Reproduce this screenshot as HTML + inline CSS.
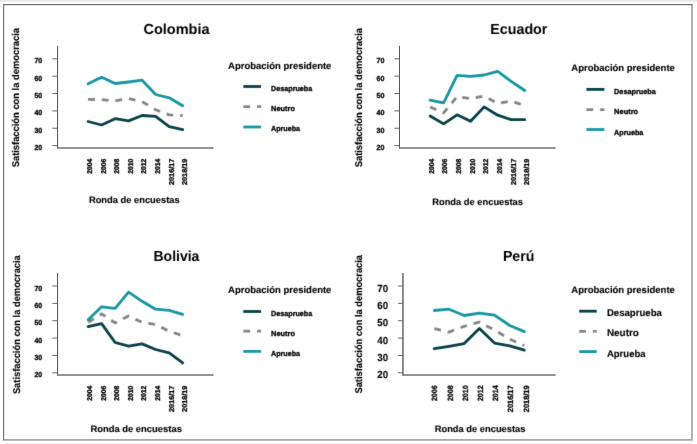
<!DOCTYPE html>
<html><head><meta charset="utf-8"><title>Satisfacción con la democracia</title>
<style>html,body{margin:0;padding:0;background:#fff;}body{width:697px;height:444px;overflow:hidden;font-family:"Liberation Sans",sans-serif;}svg{display:block;}text{font-family:"Liberation Sans",sans-serif;text-rendering:geometricPrecision;}</style>
</head><body>
<svg width="697" height="444" viewBox="0 0 697 444">
<defs><filter id="soft" x="0" y="0" width="697" height="444" filterUnits="userSpaceOnUse" color-interpolation-filters="sRGB"><feConvolveMatrix order="3" kernelMatrix="0.015 0.065 0.015 0.065 0.68 0.065 0.015 0.065 0.015" divisor="1" edgeMode="duplicate" preserveAlpha="false"/></filter><linearGradient id="tg" x1="0" y1="0" x2="0" y2="1"><stop offset="0" stop-color="#e2e2e2"/><stop offset="1" stop-color="#ffffff"/></linearGradient></defs>
<rect x="0" y="0" width="697" height="444" fill="#ffffff"/>
<rect x="0" y="0" width="697" height="3" fill="url(#tg)"/>
<path d="M692.0 4.5V439.95H3.6" fill="none" stroke="#a9a9a9" stroke-width="1.8"/>
<path d="M3.6 440.6V4.6H692.7" fill="none" stroke="#787878" stroke-width="1.25"/>
<g id="chart" filter="url(#soft)">
<text x="42.20" y="63.30" font-size="7.4" font-weight="bold" fill="#000000" text-anchor="end" stroke="#000000" stroke-width="0.32" textLength="7.80" lengthAdjust="spacingAndGlyphs">70</text>
<text x="42.20" y="80.66" font-size="7.4" font-weight="bold" fill="#000000" text-anchor="end" stroke="#000000" stroke-width="0.32" textLength="7.80" lengthAdjust="spacingAndGlyphs">60</text>
<text x="42.20" y="98.02" font-size="7.4" font-weight="bold" fill="#000000" text-anchor="end" stroke="#000000" stroke-width="0.32" textLength="7.80" lengthAdjust="spacingAndGlyphs">50</text>
<text x="42.20" y="115.38" font-size="7.4" font-weight="bold" fill="#000000" text-anchor="end" stroke="#000000" stroke-width="0.32" textLength="7.80" lengthAdjust="spacingAndGlyphs">40</text>
<text x="42.20" y="132.74" font-size="7.4" font-weight="bold" fill="#000000" text-anchor="end" stroke="#000000" stroke-width="0.32" textLength="7.80" lengthAdjust="spacingAndGlyphs">30</text>
<text x="42.20" y="150.10" font-size="7.4" font-weight="bold" fill="#000000" text-anchor="end" stroke="#000000" stroke-width="0.32" textLength="7.80" lengthAdjust="spacingAndGlyphs">20</text>
<text x="19.30" y="167.30" font-size="9.9" font-weight="bold" fill="#000000" text-anchor="start" stroke="#000000" stroke-width="0.12" textLength="139.30" lengthAdjust="spacingAndGlyphs" transform="rotate(-90 19.30 167.30)">Satisfacción con la democracia</text>
<text x="92.00" y="158.60" font-size="7.1" font-weight="bold" fill="#000000" text-anchor="end" stroke="#000000" stroke-width="0.32" textLength="15.10" lengthAdjust="spacingAndGlyphs" transform="rotate(-90 92.00 158.60)">2004</text>
<text x="105.60" y="158.60" font-size="7.1" font-weight="bold" fill="#000000" text-anchor="end" stroke="#000000" stroke-width="0.32" textLength="15.10" lengthAdjust="spacingAndGlyphs" transform="rotate(-90 105.60 158.60)">2006</text>
<text x="119.20" y="158.60" font-size="7.1" font-weight="bold" fill="#000000" text-anchor="end" stroke="#000000" stroke-width="0.32" textLength="15.10" lengthAdjust="spacingAndGlyphs" transform="rotate(-90 119.20 158.60)">2008</text>
<text x="132.80" y="158.60" font-size="7.1" font-weight="bold" fill="#000000" text-anchor="end" stroke="#000000" stroke-width="0.32" textLength="15.10" lengthAdjust="spacingAndGlyphs" transform="rotate(-90 132.80 158.60)">2010</text>
<text x="146.40" y="158.60" font-size="7.1" font-weight="bold" fill="#000000" text-anchor="end" stroke="#000000" stroke-width="0.32" textLength="15.10" lengthAdjust="spacingAndGlyphs" transform="rotate(-90 146.40 158.60)">2012</text>
<text x="160.00" y="158.60" font-size="7.1" font-weight="bold" fill="#000000" text-anchor="end" stroke="#000000" stroke-width="0.32" textLength="15.10" lengthAdjust="spacingAndGlyphs" transform="rotate(-90 160.00 158.60)">2014</text>
<text x="173.60" y="158.60" font-size="7.1" font-weight="bold" fill="#000000" text-anchor="end" stroke="#000000" stroke-width="0.32" textLength="26.40" lengthAdjust="spacingAndGlyphs" transform="rotate(-90 173.60 158.60)">2016/17</text>
<text x="187.20" y="158.60" font-size="7.1" font-weight="bold" fill="#000000" text-anchor="end" stroke="#000000" stroke-width="0.32" textLength="26.40" lengthAdjust="spacingAndGlyphs" transform="rotate(-90 187.20 158.60)">2018/19</text>
<text x="88.90" y="202.70" font-size="9.4" font-weight="bold" fill="#000000" text-anchor="start" stroke="#000000" stroke-width="0.12" textLength="90.80" lengthAdjust="spacingAndGlyphs">Ronda de encuestas</text>
<text x="143.40" y="34.00" font-size="14.6" font-weight="bold" fill="#000000" text-anchor="start" textLength="66.20" lengthAdjust="spacingAndGlyphs">Colombia</text>
<polyline points="88.1,99.4 101.6,99.6 115.1,101.0 128.6,98.5 142.1,101.6 155.6,109.7 169.2,114.9 182.7,115.5" fill="none" stroke="#868686" stroke-width="2.8" stroke-linejoin="round" stroke-linecap="butt" stroke-dasharray="6.8 6.9"/>
<polyline points="88.1,121.5 101.6,125.0 115.1,118.7 128.6,120.9 142.1,115.5 155.6,116.3 169.2,126.6 182.7,129.7" fill="none" stroke="#07404a" stroke-width="2.8" stroke-linejoin="round" stroke-linecap="round"/>
<polyline points="88.1,83.8 101.6,77.2 115.1,83.5 128.6,82.0 142.1,80.2 155.6,94.5 169.2,97.8 182.7,105.7" fill="none" stroke="#1696a2" stroke-width="2.8" stroke-linejoin="round" stroke-linecap="round"/>
<text x="228.10" y="68.50" font-size="9.5" font-weight="bold" fill="#000000" text-anchor="start" stroke="#000000" stroke-width="0.12" textLength="103.30" lengthAdjust="spacingAndGlyphs">Aprobación presidente</text>
<path d="M243.30 86.50H261.10" stroke="#07404a" stroke-width="2.8"/>
<text x="271.10" y="90.90" font-size="7.4" font-weight="bold" fill="#000000" text-anchor="start" stroke="#000000" stroke-width="0.32" textLength="41.10" lengthAdjust="spacingAndGlyphs">Desaprueba</text>
<path d="M243.30 106.70H261.10" stroke="#868686" stroke-width="2.8" stroke-dasharray="6.8 6.9"/>
<text x="271.10" y="111.20" font-size="7.4" font-weight="bold" fill="#000000" text-anchor="start" stroke="#000000" stroke-width="0.32" textLength="23.90" lengthAdjust="spacingAndGlyphs">Neutro</text>
<path d="M243.30 127.00H261.10" stroke="#1696a2" stroke-width="2.8"/>
<text x="271.10" y="131.00" font-size="7.4" font-weight="bold" fill="#000000" text-anchor="start" stroke="#000000" stroke-width="0.32" textLength="28.90" lengthAdjust="spacingAndGlyphs">Aprueba</text>
<text x="384.50" y="63.30" font-size="7.4" font-weight="bold" fill="#000000" text-anchor="end" stroke="#000000" stroke-width="0.32" textLength="7.90" lengthAdjust="spacingAndGlyphs">70</text>
<text x="384.50" y="80.66" font-size="7.4" font-weight="bold" fill="#000000" text-anchor="end" stroke="#000000" stroke-width="0.32" textLength="7.90" lengthAdjust="spacingAndGlyphs">60</text>
<text x="384.50" y="98.02" font-size="7.4" font-weight="bold" fill="#000000" text-anchor="end" stroke="#000000" stroke-width="0.32" textLength="7.90" lengthAdjust="spacingAndGlyphs">50</text>
<text x="384.50" y="115.38" font-size="7.4" font-weight="bold" fill="#000000" text-anchor="end" stroke="#000000" stroke-width="0.32" textLength="7.90" lengthAdjust="spacingAndGlyphs">40</text>
<text x="384.50" y="132.74" font-size="7.4" font-weight="bold" fill="#000000" text-anchor="end" stroke="#000000" stroke-width="0.32" textLength="7.90" lengthAdjust="spacingAndGlyphs">30</text>
<text x="384.50" y="150.10" font-size="7.4" font-weight="bold" fill="#000000" text-anchor="end" stroke="#000000" stroke-width="0.32" textLength="7.90" lengthAdjust="spacingAndGlyphs">20</text>
<text x="362.30" y="167.30" font-size="9.9" font-weight="bold" fill="#000000" text-anchor="start" stroke="#000000" stroke-width="0.12" textLength="139.30" lengthAdjust="spacingAndGlyphs" transform="rotate(-90 362.30 167.30)">Satisfacción con la democracia</text>
<text x="433.70" y="158.60" font-size="7.1" font-weight="bold" fill="#000000" text-anchor="end" stroke="#000000" stroke-width="0.32" textLength="15.10" lengthAdjust="spacingAndGlyphs" transform="rotate(-90 433.70 158.60)">2004</text>
<text x="447.35" y="158.60" font-size="7.1" font-weight="bold" fill="#000000" text-anchor="end" stroke="#000000" stroke-width="0.32" textLength="15.10" lengthAdjust="spacingAndGlyphs" transform="rotate(-90 447.35 158.60)">2006</text>
<text x="461.00" y="158.60" font-size="7.1" font-weight="bold" fill="#000000" text-anchor="end" stroke="#000000" stroke-width="0.32" textLength="15.10" lengthAdjust="spacingAndGlyphs" transform="rotate(-90 461.00 158.60)">2008</text>
<text x="474.65" y="158.60" font-size="7.1" font-weight="bold" fill="#000000" text-anchor="end" stroke="#000000" stroke-width="0.32" textLength="15.10" lengthAdjust="spacingAndGlyphs" transform="rotate(-90 474.65 158.60)">2010</text>
<text x="488.30" y="158.60" font-size="7.1" font-weight="bold" fill="#000000" text-anchor="end" stroke="#000000" stroke-width="0.32" textLength="15.10" lengthAdjust="spacingAndGlyphs" transform="rotate(-90 488.30 158.60)">2012</text>
<text x="501.95" y="158.60" font-size="7.1" font-weight="bold" fill="#000000" text-anchor="end" stroke="#000000" stroke-width="0.32" textLength="15.10" lengthAdjust="spacingAndGlyphs" transform="rotate(-90 501.95 158.60)">2014</text>
<text x="515.60" y="158.60" font-size="7.1" font-weight="bold" fill="#000000" text-anchor="end" stroke="#000000" stroke-width="0.32" textLength="26.40" lengthAdjust="spacingAndGlyphs" transform="rotate(-90 515.60 158.60)">2016/17</text>
<text x="529.25" y="158.60" font-size="7.1" font-weight="bold" fill="#000000" text-anchor="end" stroke="#000000" stroke-width="0.32" textLength="26.40" lengthAdjust="spacingAndGlyphs" transform="rotate(-90 529.25 158.60)">2018/19</text>
<text x="432.20" y="204.90" font-size="9.4" font-weight="bold" fill="#000000" text-anchor="start" stroke="#000000" stroke-width="0.12" textLength="90.80" lengthAdjust="spacingAndGlyphs">Ronda de encuestas</text>
<text x="490.30" y="34.00" font-size="14.6" font-weight="bold" fill="#000000" text-anchor="start" textLength="57.10" lengthAdjust="spacingAndGlyphs">Ecuador</text>
<polyline points="430.1,107.0 443.6,112.9 457.1,96.6 470.6,98.7 484.1,96.0 497.7,103.4 511.2,101.0 524.7,105.8" fill="none" stroke="#868686" stroke-width="2.8" stroke-linejoin="round" stroke-linecap="butt" stroke-dasharray="6.8 6.9"/>
<polyline points="430.1,116.0 443.6,123.9 457.1,114.8 470.6,121.2 484.1,106.9 497.7,115.2 511.2,119.7 524.7,119.7" fill="none" stroke="#07404a" stroke-width="2.8" stroke-linejoin="round" stroke-linecap="round"/>
<polyline points="430.1,100.2 443.6,102.9 457.1,75.3 470.6,76.3 484.1,75.0 497.7,71.4 511.2,81.3 524.7,90.5" fill="none" stroke="#1696a2" stroke-width="2.8" stroke-linejoin="round" stroke-linecap="round"/>
<text x="571.30" y="71.10" font-size="9.5" font-weight="bold" fill="#000000" text-anchor="start" stroke="#000000" stroke-width="0.12" textLength="103.60" lengthAdjust="spacingAndGlyphs">Aprobación presidente</text>
<path d="M586.40 89.40H604.40" stroke="#07404a" stroke-width="2.8"/>
<text x="614.10" y="94.40" font-size="7.4" font-weight="bold" fill="#000000" text-anchor="start" stroke="#000000" stroke-width="0.32" textLength="41.70" lengthAdjust="spacingAndGlyphs">Desaprueba</text>
<path d="M586.40 109.70H604.40" stroke="#868686" stroke-width="2.8" stroke-dasharray="6.8 6.9"/>
<text x="614.10" y="114.20" font-size="7.4" font-weight="bold" fill="#000000" text-anchor="start" stroke="#000000" stroke-width="0.32" textLength="24.10" lengthAdjust="spacingAndGlyphs">Neutro</text>
<path d="M586.40 129.50H604.40" stroke="#1696a2" stroke-width="2.8"/>
<text x="614.10" y="134.50" font-size="7.4" font-weight="bold" fill="#000000" text-anchor="start" stroke="#000000" stroke-width="0.32" textLength="29.30" lengthAdjust="spacingAndGlyphs">Aprueba</text>
<text x="42.20" y="290.50" font-size="7.4" font-weight="bold" fill="#000000" text-anchor="end" stroke="#000000" stroke-width="0.32" textLength="7.80" lengthAdjust="spacingAndGlyphs">70</text>
<text x="42.20" y="307.86" font-size="7.4" font-weight="bold" fill="#000000" text-anchor="end" stroke="#000000" stroke-width="0.32" textLength="7.80" lengthAdjust="spacingAndGlyphs">60</text>
<text x="42.20" y="325.22" font-size="7.4" font-weight="bold" fill="#000000" text-anchor="end" stroke="#000000" stroke-width="0.32" textLength="7.80" lengthAdjust="spacingAndGlyphs">50</text>
<text x="42.20" y="342.58" font-size="7.4" font-weight="bold" fill="#000000" text-anchor="end" stroke="#000000" stroke-width="0.32" textLength="7.80" lengthAdjust="spacingAndGlyphs">40</text>
<text x="42.20" y="359.94" font-size="7.4" font-weight="bold" fill="#000000" text-anchor="end" stroke="#000000" stroke-width="0.32" textLength="7.80" lengthAdjust="spacingAndGlyphs">30</text>
<text x="42.20" y="377.30" font-size="7.4" font-weight="bold" fill="#000000" text-anchor="end" stroke="#000000" stroke-width="0.32" textLength="7.80" lengthAdjust="spacingAndGlyphs">20</text>
<text x="19.80" y="394.10" font-size="9.9" font-weight="bold" fill="#000000" text-anchor="start" stroke="#000000" stroke-width="0.12" textLength="138.90" lengthAdjust="spacingAndGlyphs" transform="rotate(-90 19.80 394.10)">Satisfacción con la democracia</text>
<text x="92.00" y="385.70" font-size="7.1" font-weight="bold" fill="#000000" text-anchor="end" stroke="#000000" stroke-width="0.32" textLength="15.10" lengthAdjust="spacingAndGlyphs" transform="rotate(-90 92.00 385.70)">2004</text>
<text x="105.60" y="385.70" font-size="7.1" font-weight="bold" fill="#000000" text-anchor="end" stroke="#000000" stroke-width="0.32" textLength="15.10" lengthAdjust="spacingAndGlyphs" transform="rotate(-90 105.60 385.70)">2006</text>
<text x="119.20" y="385.70" font-size="7.1" font-weight="bold" fill="#000000" text-anchor="end" stroke="#000000" stroke-width="0.32" textLength="15.10" lengthAdjust="spacingAndGlyphs" transform="rotate(-90 119.20 385.70)">2008</text>
<text x="132.80" y="385.70" font-size="7.1" font-weight="bold" fill="#000000" text-anchor="end" stroke="#000000" stroke-width="0.32" textLength="15.10" lengthAdjust="spacingAndGlyphs" transform="rotate(-90 132.80 385.70)">2010</text>
<text x="146.40" y="385.70" font-size="7.1" font-weight="bold" fill="#000000" text-anchor="end" stroke="#000000" stroke-width="0.32" textLength="15.10" lengthAdjust="spacingAndGlyphs" transform="rotate(-90 146.40 385.70)">2012</text>
<text x="160.00" y="385.70" font-size="7.1" font-weight="bold" fill="#000000" text-anchor="end" stroke="#000000" stroke-width="0.32" textLength="15.10" lengthAdjust="spacingAndGlyphs" transform="rotate(-90 160.00 385.70)">2014</text>
<text x="173.60" y="385.70" font-size="7.1" font-weight="bold" fill="#000000" text-anchor="end" stroke="#000000" stroke-width="0.32" textLength="26.20" lengthAdjust="spacingAndGlyphs" transform="rotate(-90 173.60 385.70)">2016/17</text>
<text x="187.20" y="385.70" font-size="7.1" font-weight="bold" fill="#000000" text-anchor="end" stroke="#000000" stroke-width="0.32" textLength="26.20" lengthAdjust="spacingAndGlyphs" transform="rotate(-90 187.20 385.70)">2018/19</text>
<text x="90.40" y="432.30" font-size="9.4" font-weight="bold" fill="#000000" text-anchor="start" stroke="#000000" stroke-width="0.12" textLength="91.50" lengthAdjust="spacingAndGlyphs">Ronda de encuestas</text>
<text x="153.50" y="260.60" font-size="14.6" font-weight="bold" fill="#000000" text-anchor="start" textLength="45.90" lengthAdjust="spacingAndGlyphs">Bolivia</text>
<polyline points="88.1,322.3 101.6,313.9 115.1,322.9 128.6,316.0 142.1,322.3 155.6,324.5 169.2,331.3 182.7,335.6" fill="none" stroke="#868686" stroke-width="2.8" stroke-linejoin="round" stroke-linecap="butt" stroke-dasharray="6.8 6.9"/>
<polyline points="88.1,326.6 101.6,323.6 115.1,342.5 128.6,346.2 142.1,343.9 155.6,349.5 169.2,352.9 182.7,362.9" fill="none" stroke="#07404a" stroke-width="2.8" stroke-linejoin="round" stroke-linecap="round"/>
<polyline points="88.1,319.8 101.6,306.8 115.1,308.4 128.6,292.2 142.1,301.3 155.6,309.2 169.2,310.3 182.7,314.4" fill="none" stroke="#1696a2" stroke-width="2.8" stroke-linejoin="round" stroke-linecap="round"/>
<text x="228.10" y="293.20" font-size="9.5" font-weight="bold" fill="#000000" text-anchor="start" stroke="#000000" stroke-width="0.12" textLength="103.30" lengthAdjust="spacingAndGlyphs">Aprobación presidente</text>
<path d="M243.30 311.50H261.10" stroke="#07404a" stroke-width="2.8"/>
<text x="271.10" y="316.00" font-size="7.4" font-weight="bold" fill="#000000" text-anchor="start" stroke="#000000" stroke-width="0.32" textLength="41.10" lengthAdjust="spacingAndGlyphs">Desaprueba</text>
<path d="M243.30 331.20H261.10" stroke="#868686" stroke-width="2.8" stroke-dasharray="6.8 6.9"/>
<text x="271.10" y="335.80" font-size="7.4" font-weight="bold" fill="#000000" text-anchor="start" stroke="#000000" stroke-width="0.32" textLength="23.90" lengthAdjust="spacingAndGlyphs">Neutro</text>
<path d="M243.30 351.40H261.10" stroke="#1696a2" stroke-width="2.8"/>
<text x="271.10" y="355.70" font-size="7.4" font-weight="bold" fill="#000000" text-anchor="start" stroke="#000000" stroke-width="0.32" textLength="28.90" lengthAdjust="spacingAndGlyphs">Aprueba</text>
<text x="388.10" y="291.65" font-size="10.3" font-weight="bold" fill="#000000" text-anchor="end" stroke="#000000" stroke-width="0.12" textLength="10.80" lengthAdjust="spacingAndGlyphs">70</text>
<text x="388.10" y="309.01" font-size="10.3" font-weight="bold" fill="#000000" text-anchor="end" stroke="#000000" stroke-width="0.12" textLength="10.80" lengthAdjust="spacingAndGlyphs">60</text>
<text x="388.10" y="326.37" font-size="10.3" font-weight="bold" fill="#000000" text-anchor="end" stroke="#000000" stroke-width="0.12" textLength="10.80" lengthAdjust="spacingAndGlyphs">50</text>
<text x="388.10" y="343.73" font-size="10.3" font-weight="bold" fill="#000000" text-anchor="end" stroke="#000000" stroke-width="0.12" textLength="10.80" lengthAdjust="spacingAndGlyphs">40</text>
<text x="388.10" y="361.09" font-size="10.3" font-weight="bold" fill="#000000" text-anchor="end" stroke="#000000" stroke-width="0.12" textLength="10.80" lengthAdjust="spacingAndGlyphs">30</text>
<text x="388.10" y="378.45" font-size="10.3" font-weight="bold" fill="#000000" text-anchor="end" stroke="#000000" stroke-width="0.12" textLength="10.80" lengthAdjust="spacingAndGlyphs">20</text>
<text x="361.70" y="393.50" font-size="9.9" font-weight="bold" fill="#000000" text-anchor="start" stroke="#000000" stroke-width="0.12" textLength="138.50" lengthAdjust="spacingAndGlyphs" transform="rotate(-90 361.70 393.50)">Satisfacción con la democracia</text>
<text x="437.50" y="385.40" font-size="7.6" font-weight="bold" fill="#000000" text-anchor="end" stroke="#000000" stroke-width="0.32" textLength="15.70" lengthAdjust="spacingAndGlyphs" transform="rotate(-90 437.50 385.40)">2006</text>
<text x="452.70" y="385.40" font-size="7.6" font-weight="bold" fill="#000000" text-anchor="end" stroke="#000000" stroke-width="0.32" textLength="15.70" lengthAdjust="spacingAndGlyphs" transform="rotate(-90 452.70 385.40)">2008</text>
<text x="467.90" y="385.40" font-size="7.6" font-weight="bold" fill="#000000" text-anchor="end" stroke="#000000" stroke-width="0.32" textLength="15.70" lengthAdjust="spacingAndGlyphs" transform="rotate(-90 467.90 385.40)">2010</text>
<text x="483.10" y="385.40" font-size="7.6" font-weight="bold" fill="#000000" text-anchor="end" stroke="#000000" stroke-width="0.32" textLength="15.70" lengthAdjust="spacingAndGlyphs" transform="rotate(-90 483.10 385.40)">2012</text>
<text x="498.30" y="385.40" font-size="7.6" font-weight="bold" fill="#000000" text-anchor="end" stroke="#000000" stroke-width="0.32" textLength="15.70" lengthAdjust="spacingAndGlyphs" transform="rotate(-90 498.30 385.40)">2014</text>
<text x="513.50" y="385.40" font-size="7.6" font-weight="bold" fill="#000000" text-anchor="end" stroke="#000000" stroke-width="0.32" textLength="26.80" lengthAdjust="spacingAndGlyphs" transform="rotate(-90 513.50 385.40)">2016/17</text>
<text x="528.70" y="385.40" font-size="7.6" font-weight="bold" fill="#000000" text-anchor="end" stroke="#000000" stroke-width="0.32" textLength="26.80" lengthAdjust="spacingAndGlyphs" transform="rotate(-90 528.70 385.40)">2018/19</text>
<text x="434.70" y="431.60" font-size="9.4" font-weight="bold" fill="#000000" text-anchor="start" stroke="#000000" stroke-width="0.12" textLength="90.80" lengthAdjust="spacingAndGlyphs">Ronda de encuestas</text>
<text x="502.90" y="260.60" font-size="14.6" font-weight="bold" fill="#000000" text-anchor="start" textLength="31.50" lengthAdjust="spacingAndGlyphs">Perú</text>
<polyline points="434.3,328.6 449.0,332.1 464.2,326.3 479.4,322.1 494.5,330.0 509.7,339.2 524.3,345.5" fill="none" stroke="#868686" stroke-width="2.8" stroke-linejoin="round" stroke-linecap="butt" stroke-dasharray="6.8 6.9"/>
<polyline points="434.3,348.7 449.0,346.3 464.2,343.6 479.4,328.5 494.5,343.1 509.7,345.8 524.3,350.2" fill="none" stroke="#07404a" stroke-width="2.8" stroke-linejoin="round" stroke-linecap="round"/>
<polyline points="434.3,310.5 449.0,309.2 464.2,315.5 479.4,313.2 494.5,315.2 509.7,325.5 524.3,331.6" fill="none" stroke="#1696a2" stroke-width="2.8" stroke-linejoin="round" stroke-linecap="round"/>
<text x="571.30" y="293.40" font-size="9.5" font-weight="bold" fill="#000000" text-anchor="start" stroke="#000000" stroke-width="0.12" textLength="103.60" lengthAdjust="spacingAndGlyphs">Aprobación presidente</text>
<path d="M579.20 311.20H596.70" stroke="#07404a" stroke-width="2.8"/>
<text x="606.90" y="316.10" font-size="9.8" font-weight="bold" fill="#000000" text-anchor="start" stroke="#000000" stroke-width="0.12" textLength="55.00" lengthAdjust="spacingAndGlyphs">Desaprueba</text>
<path d="M579.20 331.30H596.70" stroke="#868686" stroke-width="2.8" stroke-dasharray="6.8 6.9"/>
<text x="606.90" y="336.30" font-size="9.8" font-weight="bold" fill="#000000" text-anchor="start" stroke="#000000" stroke-width="0.12" textLength="32.00" lengthAdjust="spacingAndGlyphs">Neutro</text>
<path d="M579.20 351.60H596.70" stroke="#1696a2" stroke-width="2.8"/>
<text x="606.90" y="357.20" font-size="9.8" font-weight="bold" fill="#000000" text-anchor="start" stroke="#000000" stroke-width="0.12" textLength="38.70" lengthAdjust="spacingAndGlyphs">Aprueba</text>
</g>
<g id="axes">
<path d="M57.55 45.90V148.50" fill="none" stroke="#404040" stroke-width="0.9"/>
<path d="M57.10 147.90H213.60" fill="none" stroke="#707070" stroke-width="1.5"/>
<path d="M52.25 58.80H57.55" stroke="#5a5a5a" stroke-width="0.9"/>
<path d="M52.25 76.16H57.55" stroke="#5a5a5a" stroke-width="0.9"/>
<path d="M52.25 93.52H57.55" stroke="#5a5a5a" stroke-width="0.9"/>
<path d="M52.25 110.88H57.55" stroke="#5a5a5a" stroke-width="0.9"/>
<path d="M52.25 128.24H57.55" stroke="#5a5a5a" stroke-width="0.9"/>
<path d="M52.25 145.60H57.55" stroke="#5a5a5a" stroke-width="0.9"/>
<path d="M399.45 45.90V148.50" fill="none" stroke="#404040" stroke-width="0.9"/>
<path d="M399.00 147.90H555.60" fill="none" stroke="#707070" stroke-width="1.5"/>
<path d="M394.35 58.80H399.45" stroke="#5a5a5a" stroke-width="0.9"/>
<path d="M394.35 76.16H399.45" stroke="#5a5a5a" stroke-width="0.9"/>
<path d="M394.35 93.52H399.45" stroke="#5a5a5a" stroke-width="0.9"/>
<path d="M394.35 110.88H399.45" stroke="#5a5a5a" stroke-width="0.9"/>
<path d="M394.35 128.24H399.45" stroke="#5a5a5a" stroke-width="0.9"/>
<path d="M394.35 145.60H399.45" stroke="#5a5a5a" stroke-width="0.9"/>
<path d="M57.55 273.00V375.50" fill="none" stroke="#404040" stroke-width="0.9"/>
<path d="M57.10 374.90H213.50" fill="none" stroke="#707070" stroke-width="1.5"/>
<path d="M52.25 286.00H57.55" stroke="#5a5a5a" stroke-width="0.9"/>
<path d="M52.25 303.36H57.55" stroke="#5a5a5a" stroke-width="0.9"/>
<path d="M52.25 320.72H57.55" stroke="#5a5a5a" stroke-width="0.9"/>
<path d="M52.25 338.08H57.55" stroke="#5a5a5a" stroke-width="0.9"/>
<path d="M52.25 355.44H57.55" stroke="#5a5a5a" stroke-width="0.9"/>
<path d="M52.25 372.80H57.55" stroke="#5a5a5a" stroke-width="0.9"/>
<path d="M402.95 273.00V375.50" fill="none" stroke="#404040" stroke-width="1.2"/>
<path d="M402.50 374.90H555.60" fill="none" stroke="#707070" stroke-width="1.5"/>
<path d="M397.95 286.00H402.95" stroke="#5a5a5a" stroke-width="0.9"/>
<path d="M397.95 303.36H402.95" stroke="#5a5a5a" stroke-width="0.9"/>
<path d="M397.95 320.72H402.95" stroke="#5a5a5a" stroke-width="0.9"/>
<path d="M397.95 338.08H402.95" stroke="#5a5a5a" stroke-width="0.9"/>
<path d="M397.95 355.44H402.95" stroke="#5a5a5a" stroke-width="0.9"/>
<path d="M397.95 372.80H402.95" stroke="#5a5a5a" stroke-width="0.9"/>
</g>
</svg>
</body></html>
